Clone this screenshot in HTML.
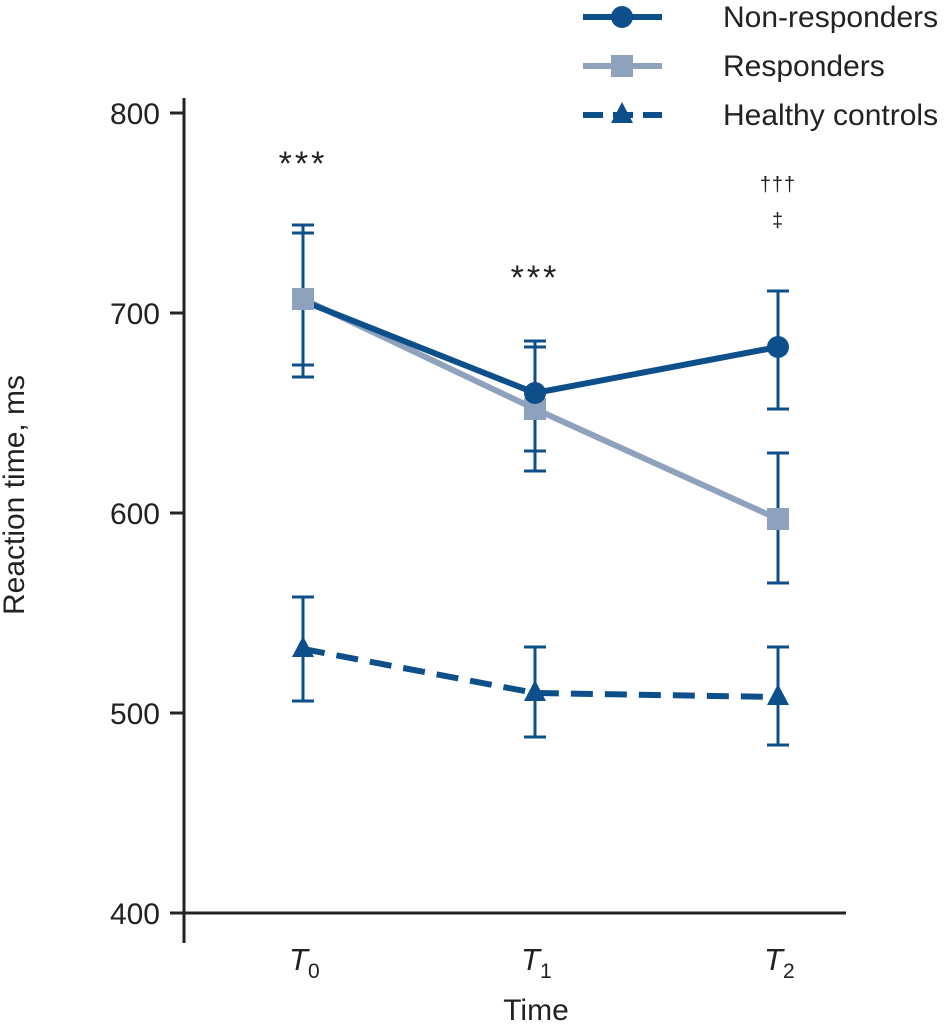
<!DOCTYPE html>
<html><head><meta charset="utf-8"><style>
body{margin:0;background:#fff}
svg text{font-family:"Liberation Sans",sans-serif;fill:#222}
</style></head><body>
<svg id="chart" width="949" height="1023" xmlns="http://www.w3.org/2000/svg">
<g id="axes"></g><g id="marks"></g><g id="legend"></g>
</svg>
<script>
const categories=["T0","T1","T2"];
const nonResp=[706,660,683];
const nonRespHi=[744,686,711];
const nonRespLo=[668,631,652];
const resp=[707,652,597];
const respHi=[740,683,630];
const respLo=[674,621,565];
const healthy=[532,510,508];
const healthyHi=[558,533,533];
const healthyLo=[506,488,484];
const yTicks=[400,500,600,700,800];
const annotations=[["***",0,781],["***",1,724],["†††",2,765],["‡",2,747]];

const NS="http://www.w3.org/2000/svg";
const xPos=[303,535,778];
function x(i){return xPos[i];}
function y(v){return 913-(v-400)*2;}
function el(t,a,p){const e=document.createElementNS(NS,t);for(const k in a)e.setAttribute(k,a[k]);p.appendChild(e);return e;}
const axes=document.getElementById('axes'),marks=document.getElementById('marks'),leg=document.getElementById('legend');
let e=el('line',{x1:184,y1:98,x2:184,y2:943,stroke:'#222','stroke-width':3},axes);

e=el('line',{x1:184,y1:913,x2:846,y2:913,stroke:'#222','stroke-width':3},axes);

yTicks.forEach(v=>{
 el('line',{x1:170,x2:184,y1:y(v),y2:y(v),stroke:'#222','stroke-width':3},axes);
 const t=el('text',{x:160,y:y(v)+11,'font-size':30,'text-anchor':'end'},axes);t.textContent=v;
 
});
categories.forEach((c,i)=>{
 const t=el('text',{x:x(i)-14,y:970,'font-size':31,'font-style':'italic'},axes);
 t.textContent='T';const s=el('tspan',{'font-size':21,dy:8,'font-style':'normal'},t);s.textContent=c.slice(1);
 
});
e=el('text',{x:536,y:1020,'font-size':30,'text-anchor':'middle'},axes);e.textContent='Time';

e=el('text',{x:0,y:0,'font-size':30,'text-anchor':'middle',transform:'translate(24,495) rotate(-90)'},axes);e.textContent='Reaction time, ms';


function errs(hi,lo,name){hi.forEach((h,i)=>{
 const g=el('g',{stroke:'#0d4f8b','stroke-width':3},marks);
 
 el('line',{x1:x(i),x2:x(i),y1:y(h),y2:y(lo[i])},g);
 el('line',{x1:x(i)-11,x2:x(i)+11,y1:y(h),y2:y(h)},g);
 el('line',{x1:x(i)-11,x2:x(i)+11,y1:y(lo[i]),y2:y(lo[i])},g);
});}
errs(nonRespHi,nonRespLo,'non-responders');errs(respHi,respLo,'responders');errs(healthyHi,healthyLo,'healthy-controls');
function line(vals,col,dash,name){
 const p=el('polyline',{points:vals.map((v,i)=>x(i)+','+y(v)).join(' '),fill:'none',stroke:col,'stroke-width':6,'stroke-dasharray':dash||''},marks);
 
}
line(resp,'#8fa2bd','', 'responders');
line(nonResp,'#0d4f8b','', 'non-responders');
line(healthy,'#0d4f8b','22 12','healthy-controls');
resp.forEach((v,i)=>{const r=el('rect',{x:x(i)-11,y:y(v)-11,width:22,height:22,fill:'#8fa2bd'},marks);
 });
nonResp.forEach((v,i)=>{if(i===0)return;const c=el('circle',{cx:x(i),cy:y(v),r:11,fill:'#0d4f8b'},marks);
 });
healthy.forEach((v,i)=>{const p=el('polygon',{points:`${x(i)},${y(v)-13} ${x(i)-11},${y(v)+8} ${x(i)+11},${y(v)+8}`,fill:'#0d4f8b'},marks);
 });
annotations.forEach(([s,i,v])=>{
 const star=s==='***';
 const t=el('text',{x:x(i),y:y(v)+(star?24:8),'font-size':star?34:20,'text-anchor':'middle','letter-spacing':star?3:1},marks);
 t.textContent=s;
});
const L=[["Non-responders",'#0d4f8b','','c'],["Responders",'#8fa2bd','','s'],["Healthy controls",'#0d4f8b','20 10','t']];
L.forEach(([n,c,d,m],k)=>{
 const yy=17+k*49;
 const g=el('g',{},leg);
 el('line',{x1:583,x2:662,y1:yy,y2:yy,stroke:c,'stroke-width':6,'stroke-dasharray':d},g);
 if(m==='c')el('circle',{cx:622,cy:yy,r:11,fill:c},g);
 if(m==='s')el('rect',{x:611,y:yy-11,width:22,height:22,fill:c},g);
 if(m==='t')el('polygon',{points:`622,${yy-13} 611,${yy+8} 633,${yy+8}`,fill:c},g);
 const t=el('text',{x:723,y:yy+10,'font-size':30},g);t.textContent=n;
});
</script>
</body></html>
